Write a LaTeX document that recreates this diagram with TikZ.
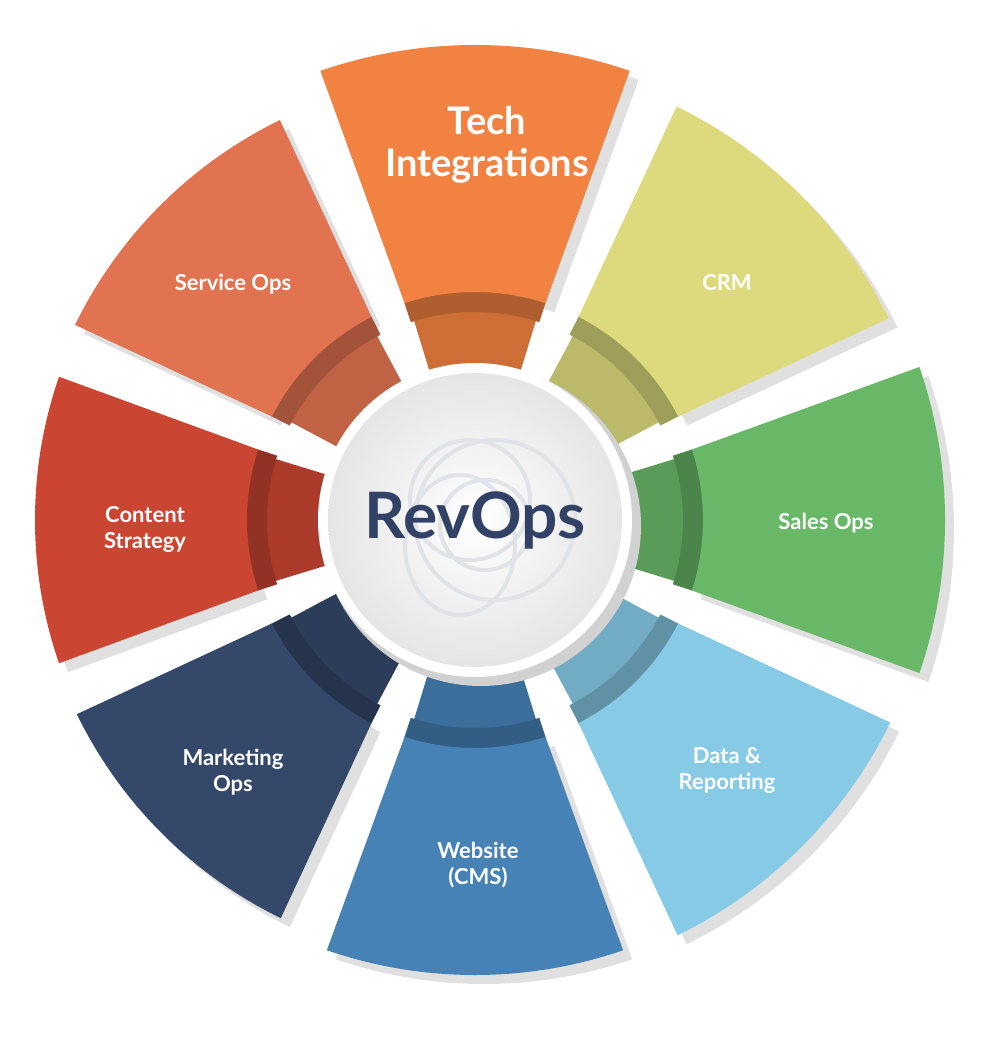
\documentclass[tikz,border=0pt]{standalone}
\usepackage{fontspec}
\setmainfont{Lato}
\usetikzlibrary{positioning}
\definecolor{tech}{RGB}{242,130,65}
\definecolor{crm}{RGB}{220,218,125}
\definecolor{sales}{RGB}{105,184,104}
\definecolor{data}{RGB}{134,202,230}
\definecolor{web}{RGB}{70,130,182}
\definecolor{mkt}{RGB}{52,72,106}
\definecolor{content}{RGB}{202,70,50}
\definecolor{service}{RGB}{226,115,80}
\definecolor{navy}{RGB}{50,66,102}
\tikzset{lbl/.style={text=white,font=\bfseries\fontsize{11}{13}\selectfont,align=center}}
\newcommand*{\seg}[3]{%
  \fill[black!12] ([shift={(9,-9)}]#1-18:228) arc[start angle=#1-18,end angle=#1+18,radius=228]
    -- ([shift={(9,-9)}]#1+19:#2) arc[start angle=#1+19,end angle=#1-19,radius=#2] -- cycle;
  \fill[#3!85!black] (#1-17:140) arc[start angle=#1-17,end angle=#1+17,radius=140]
    -- (#1+17:210) arc[start angle=#1+17,end angle=#1-17,radius=210] -- cycle;
  \fill[#3!72!black] (#1-18:208) arc[start angle=#1-18,end angle=#1+18,radius=208]
    -- (#1+18:230) arc[start angle=#1+18,end angle=#1-18,radius=230] -- cycle;
  \fill[#3] (#1-18:228) arc[start angle=#1-18,end angle=#1+18,radius=228]
    -- (#1+19:#2) arc[start angle=#1+19,end angle=#1-19,radius=#2] -- cycle;}

\begin{document}
\begin{tikzpicture}[x=0.5pt,y=0.5pt]
\useasboundingbox[fill=white] (-475,-538) rectangle (525,520);
\seg{90}{475}{tech}
\seg{45}{460}{crm}
\seg{0}{470}{sales}
\seg{-45}{462}{data}
\seg{-90}{455}{web}
\seg{-135}{443}{mkt}
\seg{180}{440}{content}
\seg{135}{445}{service}
% hub
\fill[black!18] (6,-6) circle[radius=160];
\fill[white] (0,0) circle[radius=157];
\shade[inner color=white,outer color=black!10] (0,0) circle[radius=147];
\draw[navy!15,line width=2] (-5,20) circle[radius=60] (10,-5) circle[radius=45]
  (-15,-25) ellipse[x radius=55,y radius=70] (20,0) circle[radius=80];
\node[text=navy,font=\bfseries\fontsize{32}{36}\selectfont] (hub) at (0,0) {RevOps};
\node[lbl,font=\bfseries\fontsize{19}{21}\selectfont] (tech) at (12,375) {Tech\\Integrations};
\node[lbl] (crm) at (252,237) {CRM};
\node[lbl] (sales) at (351,-3) {Sales Ops};
\node[lbl] (data) at (252,-250) {Data \&\\Reporting};
\node[lbl] (web) at (3,-345) {Website\\(CMS)};
\node[lbl] (mkt) at (-242,-252) {Marketing\\Ops};
\node[lbl] (content) at (-330,-9) {Content\\Strategy};
\node[lbl] (service) at (-242,236) {Service Ops};
\end{tikzpicture}
\end{document}
